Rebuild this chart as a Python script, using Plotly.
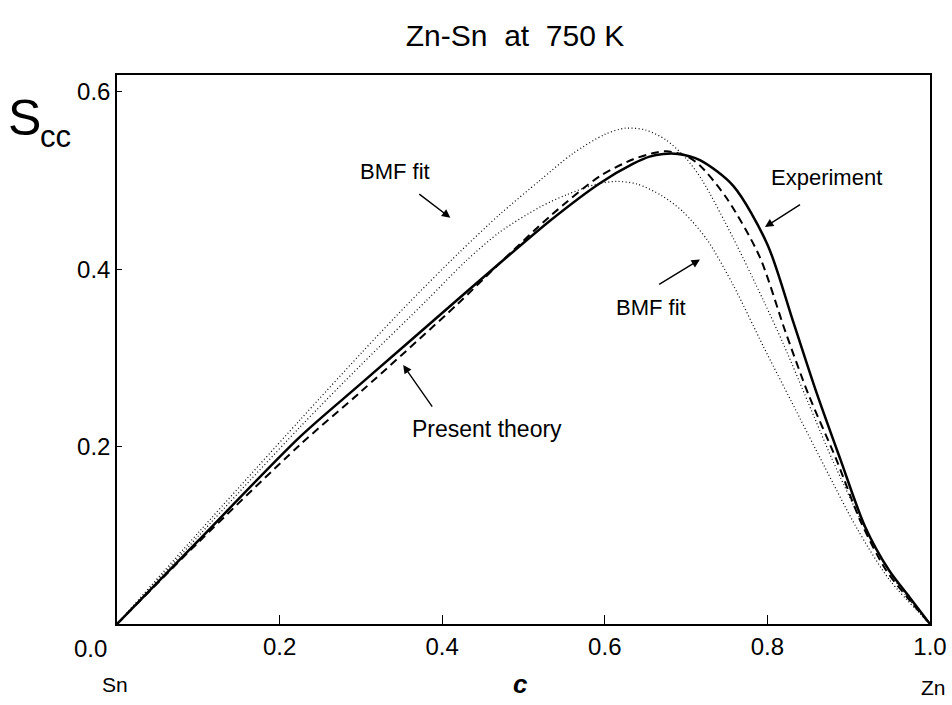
import plotly.graph_objects as go

# Experiment (solid)
exp_x = [0.0, 0.1, 0.225, 0.3, 0.418, 0.471, 0.533, 0.594, 0.635, 0.655, 0.672, 0.69, 0.717, 0.758, 0.80, 0.832, 0.86, 0.89, 0.92, 0.95, 0.975, 1.0]
exp_y = [0.0, 0.094, 0.211, 0.271, 0.365, 0.407, 0.455, 0.497, 0.519, 0.527, 0.530, 0.530, 0.523, 0.494, 0.428, 0.340, 0.262, 0.185, 0.110, 0.060, 0.030, 0.0]

# Present theory (dashed)
th_x = [0.0, 0.1, 0.225, 0.3, 0.418, 0.471, 0.533, 0.594, 0.635, 0.66, 0.676, 0.70, 0.717, 0.75, 0.79, 0.822, 0.85, 0.885, 0.915, 0.945, 0.972, 1.0]
th_y = [0.0, 0.092, 0.202, 0.262, 0.360, 0.407, 0.460, 0.505, 0.524, 0.531, 0.533, 0.528, 0.517, 0.48, 0.415, 0.33, 0.26, 0.185, 0.115, 0.062, 0.030, 0.0]

# BMF fit, upper (dotted)
bmf1_x = [0.0, 0.1, 0.225, 0.30, 0.36, 0.42, 0.471, 0.52, 0.56, 0.60, 0.625, 0.65, 0.675, 0.70, 0.72, 0.758, 0.795, 0.82, 0.85, 0.88, 0.92, 0.96, 1.0]
bmf1_y = [0.0, 0.103, 0.230, 0.305, 0.363, 0.418, 0.462, 0.500, 0.530, 0.552, 0.559, 0.557, 0.546, 0.525, 0.500, 0.435, 0.365, 0.315, 0.25, 0.185, 0.108, 0.045, 0.0]

# BMF fit, lower (dotted)
bmf2_x = [0.0, 0.1, 0.225, 0.30, 0.381, 0.43, 0.471, 0.52, 0.553, 0.59, 0.615, 0.64, 0.67, 0.696, 0.726, 0.758, 0.795, 0.83, 0.87, 0.91, 0.95, 1.0]
bmf2_y = [0.0, 0.099, 0.222, 0.292, 0.365, 0.41, 0.442, 0.47, 0.484, 0.496, 0.499, 0.496, 0.483, 0.465, 0.433, 0.382, 0.313, 0.25, 0.178, 0.108, 0.05, 0.0]

x_ticks = [0.2, 0.4, 0.6, 0.8, 1.0]
x_tick_text = ["0.2", "0.4", "0.6", "0.8", "1.0"]
y_ticks = [0.2, 0.4, 0.6]
y_tick_text = ["0.2", "0.4", "0.6"]

FONT = "Liberation Sans"

fig = go.Figure()
dot_line = dict(color="black", width=1.2, dash="1px,2.5px", shape="spline", smoothing=0.8)
fig.add_trace(go.Scatter(x=bmf1_x, y=bmf1_y, mode="lines", line=dot_line, showlegend=False))
fig.add_trace(go.Scatter(x=bmf2_x, y=bmf2_y, mode="lines", line=dot_line, showlegend=False))
fig.add_trace(go.Scatter(x=th_x, y=th_y, mode="lines",
                         line=dict(color="black", width=2, dash="8px,5px", shape="spline", smoothing=0.8), showlegend=False))
fig.add_trace(go.Scatter(x=exp_x, y=exp_y, mode="lines",
                         line=dict(color="black", width=2.5, shape="spline", smoothing=0.8), showlegend=False))

fig.update_layout(
    width=952, height=705,
    margin=dict(l=117, r=22, t=75, b=81),
    paper_bgcolor="white", plot_bgcolor="white",
    font=dict(family=FONT, color="black", size=24),
    title=dict(text="Zn-Sn  at  750 K", x=0.541, xanchor="center", y=0.950, yanchor="middle",
               font=dict(family=FONT, size=30, color="black")),
    xaxis=dict(range=[0, 1], tickvals=x_ticks, ticktext=x_tick_text, ticks="inside", ticklen=9,
               tickwidth=1, tickcolor="black", showgrid=False, zeroline=False, showline=True,
               linecolor="black", linewidth=1.5, mirror=True, tickfont=dict(size=24),
               ticklabeloverflow="allow", automargin=False),
    yaxis=dict(range=[0, 0.619], tickvals=y_ticks, ticktext=y_tick_text, ticks="inside", ticklen=5,
               tickwidth=1, tickcolor="black", showgrid=False, zeroline=False, showline=True,
               linecolor="black", linewidth=1.5, mirror=True, tickfont=dict(size=24), automargin=False),
)

arrow = dict(xref="x", yref="y", axref="x", ayref="y", text="", showarrow=True,
             arrowhead=2, arrowsize=1.2, arrowwidth=1.4, arrowcolor="black")
paper = dict(xref="paper", yref="paper", x=0.0, y=0.0, showarrow=False, xanchor="center", yanchor="middle")
ann = [
    dict(x=0, y=0, xref="x", yref="y", text="0.0", showarrow=False, xanchor="center", yanchor="middle",
         xshift=-27, yshift=-24, font=dict(size=24)),
    dict(paper, text="Sn", xshift=-2, yshift=-60, font=dict(size=21)),
    dict(paper, x=1.0, text="Zn", xshift=3, yshift=-63, font=dict(size=21)),
    dict(paper, x=0.5, text="<b><i>c</i></b>", xshift=-3, yshift=-60, font=dict(size=26)),
    dict(paper, text="S", xshift=-93, yshift=506, font=dict(size=50, family="Liberation Sans Narrow, Liberation Sans")),
    dict(paper, text="cc", xshift=-62, yshift=488, font=dict(size=31)),
    dict(x=0.342, y=0.510, xref="x", yref="y", text="BMF fit", showarrow=False, font=dict(size=22)),
    dict(x=0.657, y=0.357, xref="x", yref="y", text="BMF fit", showarrow=False, font=dict(size=22)),
    dict(x=0.873, y=0.504, xref="x", yref="y", text="Experiment", showarrow=False, font=dict(size=22)),
    dict(x=0.455, y=0.220, xref="x", yref="y", text="Present theory", showarrow=False, font=dict(size=23)),
    dict(x=0.410, y=0.458, ax=0.370, ay=0.486, **arrow),
    dict(x=0.352, y=0.292, ax=0.389, ay=0.2435, **arrow),
    dict(x=0.717, y=0.411, ax=0.665, ay=0.382, **arrow),
    dict(x=0.797, y=0.4476, ax=0.842, ay=0.474, **arrow),
]
fig.update_layout(annotations=ann)

fig.write_html("out.html", config={"displayModeBar": False},
               post_script="document.body.style.margin='0';document.body.style.overflow='hidden';")
